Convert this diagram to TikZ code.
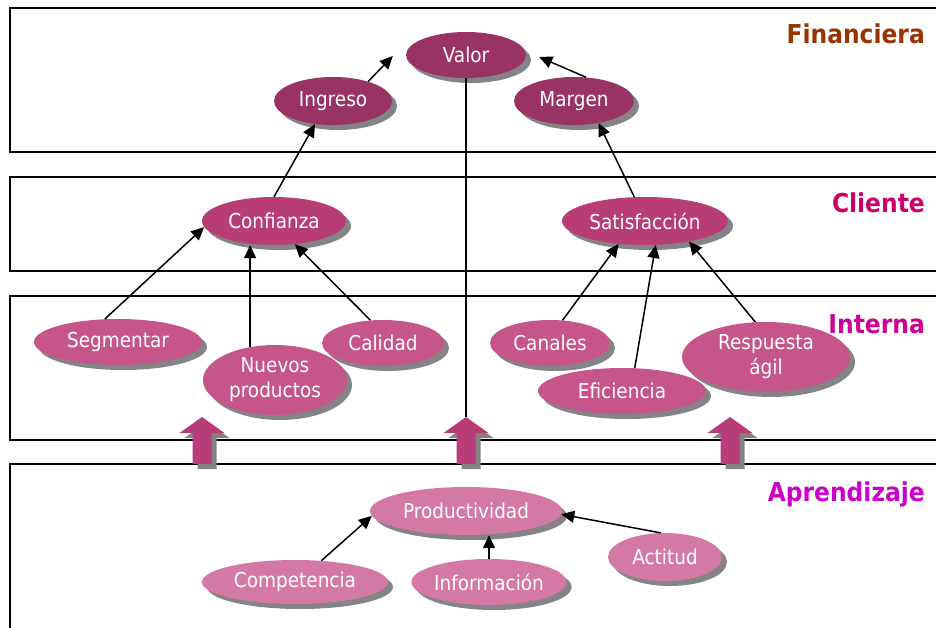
\documentclass[tikz,border=0pt]{standalone}
\usepackage{fontspec}
\setmainfont[FakeStretch=0.9]{DejaVu Sans}
\usetikzlibrary{shapes.geometric,arrows.meta,shadows}

\definecolor{finfill}{HTML}{993366}
\definecolor{clifill}{HTML}{B83C76}
\definecolor{intfill}{HTML}{C5558B}
\definecolor{aprfill}{HTML}{D479A5}
\definecolor{bigarrow}{HTML}{B83C78}
\definecolor{shadowgray}{HTML}{848484}
\definecolor{fintitle}{HTML}{993300}
\definecolor{clititle}{HTML}{CC0066}
\definecolor{inttitle}{HTML}{CC0099}
\definecolor{aprtitle}{HTML}{CC00CC}

\tikzset{
  oval/.style n args={2}{ellipse, inner sep=0pt, text=white,
    minimum width=#1pt, minimum height=#2pt,
    font=\fontsize{20.5}{25}\selectfont, align=center,
    drop shadow={shadow xshift=5pt, shadow yshift=-5pt, fill=shadowgray, opacity=1}},
  band/.style={draw=black, line width=1.6pt},
  conn/.style={draw=black, line width=1.5pt, -{Triangle[length=13pt,width=12pt]}},
  plain/.style={draw=black, line width=1.5pt},
  title/.style={anchor=base east, inner sep=0pt, font=\fontsize{26}{30}\selectfont\bfseries}
}

\begin{document}
\begin{tikzpicture}[x=1pt,y=-1pt]
\useasboundingbox (0,0) rectangle (936,628);
\clip (0,0) rectangle (936,628);

% perspective bands
\draw[band] (10,8) rectangle (960,152);
\draw[band] (10,177) rectangle (960,271);
\draw[band] (10,296) rectangle (960,440);
\draw[band] (10,464) rectangle (960,660);

% upward block arrows between learning and internal layers
\foreach \cx/\nm in {202/upA,466/upB,730/upC}{
  \fill[shadowgray, shift={(5,5)}] (\cx,417) -- (\cx+22.5,433) -- (\cx+9.5,433)
     -- (\cx+9.5,464) -- (\cx-9.5,464) -- (\cx-9.5,433) -- (\cx-22.5,433) -- cycle;
  \fill[bigarrow] (\cx,417) -- (\cx+22.5,433) -- (\cx+9.5,433)
     -- (\cx+9.5,464) -- (\cx-9.5,464) -- (\cx-9.5,433) -- (\cx-22.5,433) -- cycle;
  \coordinate (\nm) at (\cx,417);
}

% financial layer
\node[oval={120}{46}, fill=finfill] (valor) at (466,55) {Valor};
\node[oval={118}{48}, fill=finfill] (ingreso) at (333,101) {Ingreso};
\node[oval={120}{48}, fill=finfill] (margen) at (574,101) {Margen};

% customer layer
\node[oval={144}{48}, fill=clifill] (confianza) at (274,221) {Confianza};
\node[oval={166}{48}, fill=clifill] (satisf) at (645,221) {Satisfacción};

% internal layer
\node[oval={168}{46}, fill=intfill] (segmentar) at (118,342) {Segmentar};
\node[oval={144}{70}, fill=intfill] (nuevos) at (275,380) {Nuevos\\productos};
\node[oval={122}{46}, fill=intfill] (calidad) at (383,343) {Calidad};
\node[oval={120}{46}, fill=intfill] (canales) at (550,343) {Canales};
\node[oval={168}{46}, fill=intfill] (eficiencia) at (622,391) {Eficiencia};
\node[oval={168}{70}, fill=intfill] (respuesta) at (766,357) {Respuesta\\ágil};

% learning layer
\node[oval={192}{48}, fill=aprfill] (product) at (466,511) {Productividad};
\node[oval={186}{44}, fill=aprfill] (compet) at (295,582) {Competencia};
\node[oval={142}{46}, fill=aprfill] (info) at (489,582) {Información};
\node[oval={114}{48}, fill=aprfill] (actitud) at (665,557) {Actitud};

% cause-effect links
\draw[conn] (ingreso.29) -- ([xshift=-13pt,yshift=-1pt]valor.west);
\draw[conn] (margen.63) -- ([xshift=13pt,yshift=-2pt]valor.east);
\draw[plain] (valor.south) -- (upB);

\draw[conn] (confianza.north) -- (ingreso.232);
\draw[conn] (satisf.114) -- (margen.318);

\draw[conn] (segmentar.120) -- (confianza.185);
\draw[conn] (nuevos.127) -- (nuevos.127 |- confianza.south);
\draw[conn] (calidad.119) -- (confianza.312);

\draw[conn] (canales.61) -- (satisf.221);
\draw[conn] (eficiencia.61) -- (satisf.294);
\draw[conn] (respuesta.107) -- (satisf.335);

\draw[conn] (compet.39) -- (product.183);
\draw[conn] (info.north) -- (info.north |- product.south);
\draw[conn] (actitud.100) -- (product.358);

% layer titles
\node[title, text=fintitle] (tfin) at (925,44) {Financiera};
\node[title, text=clititle] (tcli) at (925,213) {Cliente};
\node[title, text=inttitle] (tint) at (925,333) {Interna};
\node[title, text=aprtitle] (tapr) at (925,501) {Aprendizaje};
\end{tikzpicture}
\end{document}
